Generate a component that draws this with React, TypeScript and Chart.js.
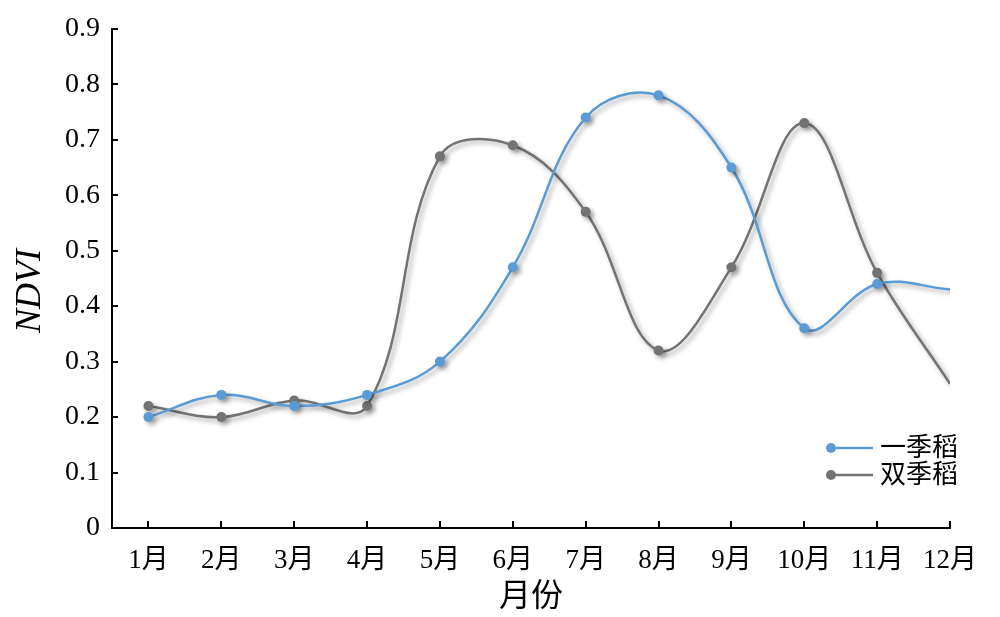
import React, { useEffect, useRef } from "react";
import { Chart, registerables } from "chart.js";

Chart.register(...registerables);

const months = ["1月", "2月", "3月", "4月", "5月", "6月", "7月", "8月", "9月", "10月", "11月", "12月"];
const singleRice = [0.2, 0.24, 0.22, 0.24, 0.3, 0.47, 0.74, 0.78, 0.65, 0.36, 0.44, 0.43];
const doubleRice = [0.22, 0.2, 0.23, 0.22, 0.67, 0.69, 0.57, 0.32, 0.47, 0.73, 0.46, 0.26];
const yTicks = [0, 0.1, 0.2, 0.3, 0.4, 0.5, 0.6, 0.7, 0.8, 0.9];
const seriesNames = ["一季稻", "双季稻"];
const seriesColors = ["#5B9BD5", "#737373"];

const FONT = "'Liberation Serif', 'Noto Sans CJK SC', serif";

const shadowPlugin = {
  id: "lineShadow",
  beforeDatasetDraw(chart: any) {
    const ctx = chart.ctx;
    ctx.save();
    ctx.shadowColor = "rgba(0,0,0,0.35)";
    ctx.shadowBlur = 5;
    ctx.shadowOffsetX = 3;
    ctx.shadowOffsetY = 3;
  },
  afterDatasetDraw(chart: any) {
    chart.ctx.restore();
  },
};

const decorPlugin = {
  id: "decor",
  afterDraw(chart: any) {
    const ctx = chart.ctx;
    const xs = chart.scales.x;
    const ys = chart.scales.y;
    const area = chart.chartArea;
    ctx.save();
    ctx.strokeStyle = "#000";
    ctx.lineWidth = 2;
    // inward ticks
    yTicks.forEach((v) => {
      if (v === 0) return;
      const py = Math.round(ys.getPixelForValue(v));
      ctx.beginPath();
      ctx.moveTo(area.left, py);
      ctx.lineTo(area.left + 6, py);
      ctx.stroke();
    });
    months.forEach((_, i) => {
      const px = Math.round(xs.getPixelForValue(i + 1));
      ctx.beginPath();
      ctx.moveTo(px, area.bottom);
      ctx.lineTo(px, area.bottom - 7);
      ctx.stroke();
    });
    // y title
    ctx.save();
    ctx.translate(40, 291);
    ctx.rotate(-Math.PI / 2);
    ctx.font = `italic 36px ${FONT}`;
    ctx.fillStyle = "#000";
    ctx.textAlign = "center";
    ctx.textBaseline = "alphabetic";
    ctx.fillText("NDVI", 0, 0);
    ctx.restore();
    // legend
    const lx = 831;
    const rows = [448, 475];
    seriesNames.forEach((name, i) => {
      const y = rows[i];
      ctx.strokeStyle = seriesColors[i];
      ctx.lineWidth = 2.5;
      ctx.beginPath();
      ctx.moveTo(lx, y);
      ctx.lineTo(lx + 42, y);
      ctx.stroke();
      ctx.fillStyle = seriesColors[i];
      ctx.beginPath();
      ctx.arc(lx, y, 5, 0, Math.PI * 2);
      ctx.fill();
      ctx.fillStyle = "#000";
      ctx.font = `26px ${FONT}`;
      ctx.textAlign = "left";
      ctx.textBaseline = "middle";
      ctx.fillText(name, lx + 49, y + 1);
    });
    ctx.restore();
  },
};

export default function App() {
  const ref = useRef<HTMLCanvasElement | null>(null);
  useEffect(() => {
    if (!ref.current) return;
    const mk = (vals: number[]) => vals.map((v, i) => ({ x: i + 1, y: v }));
    const radius = (c: any) => (c.dataIndex === months.length - 1 ? 0 : 5);
    const chart = new Chart(ref.current, {
      type: "line",
      data: {
        datasets: [
          {
            label: seriesNames[0],
            data: mk(singleRice),
            borderColor: seriesColors[0],
            backgroundColor: seriesColors[0],
            borderWidth: 2.5,
            pointRadius: radius,
            pointBorderWidth: 0,
            tension: 0.38,
          },
          {
            label: seriesNames[1],
            data: mk(doubleRice),
            borderColor: seriesColors[1],
            backgroundColor: seriesColors[1],
            borderWidth: 2.5,
            pointRadius: radius,
            pointBorderWidth: 0,
            tension: 0.38,
          },
        ],
      },
      options: {
        responsive: false,
        animation: false,
        events: [],
        layout: { padding: { top: 28, right: 50, bottom: 0, left: 0 } },
        plugins: { legend: { display: false }, tooltip: { enabled: false } },
        scales: {
          x: {
            type: "linear",
            min: 0.5,
            max: 12,
            afterFit: (s: any) => {
              s.height = 89;
            },
            grid: { display: false, drawTicks: false },
            border: { display: true, color: "#000", width: 2 },
            ticks: {
              stepSize: 1,
              includeBounds: false,
              autoSkip: false,
              maxRotation: 0,
              padding: 17,
              color: "#000",
              font: { family: FONT, size: 27 },
              callback: (v: any) => months[Number(v) - 1] ?? "",
            },
            title: {
              display: true,
              text: "月份",
              color: "#000",
              font: { family: FONT, size: 32 },
              padding: { top: 0, bottom: 0 },
            },
          },
          y: {
            min: 0,
            max: 0.9,
            afterFit: (s: any) => {
              s.width = 112;
            },
            grid: { display: false, drawTicks: false },
            border: { display: true, color: "#000", width: 2 },
            ticks: {
              stepSize: 0.1,
              padding: 12,
              color: "#000",
              font: { family: FONT, size: 28 },
              callback: (v: any) => (Number(v) === 0 ? "0" : Number(v).toFixed(1)),
            },
          },
        },
      },
      plugins: [shadowPlugin, decorPlugin],
    } as any);
    return () => chart.destroy();
  }, []);
  return (
    <div style={{ position: "fixed", left: 0, top: 0, width: 1000, height: 617, background: "#fff" }}>
      <canvas ref={ref} width={1000} height={617} style={{ display: "block" }} />
    </div>
  );
}
